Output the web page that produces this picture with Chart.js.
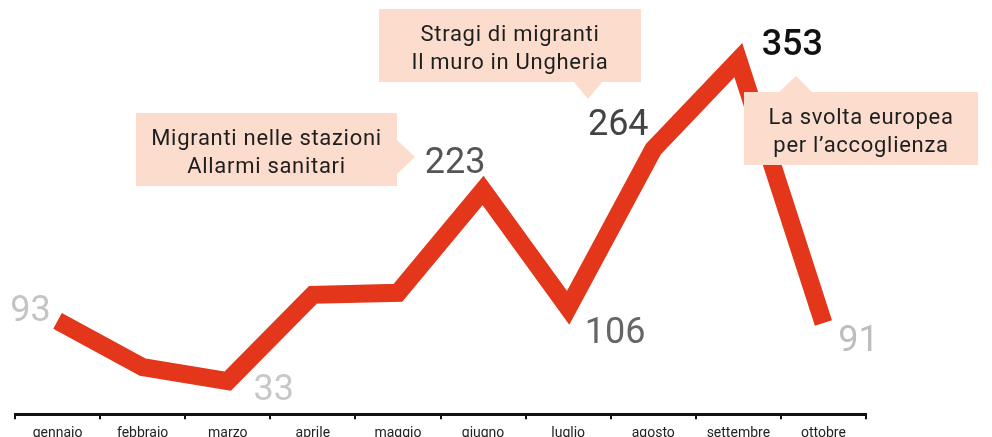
<!DOCTYPE html>
<html>
<head>
<meta charset="utf-8">
<script src="https://cdn.jsdelivr.net/npm/chart.js@4/dist/chart.umd.min.js"></script>
<style>
  html, body { margin: 0; background: #fff; overflow: hidden; }
  .wrap { position: relative; width: 992px; height: 448px; }
</style>
</head>
<body>
<div class="wrap"><canvas id="chart"></canvas></div>
<script>
const months = ["gennaio", "febbraio", "marzo", "aprile", "maggio",
  "giugno", "luglio", "agosto", "settembre", "ottobre"];
const arrivals = [93, 47, 33, 119, 121, 223, 106, 264, 353, 91];

// numbers printed next to the line (index -> look)
const valueLabels = {
  0: { dx: -27, dy: 0, color: "#c4c4c4" },
  2: { dx: 46, dy: 19, color: "#c8c8c8" },
  5: { dx: -28, dy: -18, color: "#555555" },
  6: { dx: 47, dy: 35, color: "#666666" },
  7: { dx: -35, dy: -14, color: "#444444" },
  8: { dx: 54, dy: -5, color: "#111111", weight: 500 },
  9: { dx: 35, dy: 28, color: "#bdbdbd" },
};

const calloutTexts = [
  ["Migranti nelle stazioni", "Allarmi sanitari"],
  ["Stragi di migranti", "Il muro in Ungheria"],
  ["La svolta europea", "per l\u2019accoglienza"],
];

// box geometry for each callout
const calloutBoxes = [
  { x: 136, y: 113, w: 261, h: 73, tip: "right", tx: 415, ty: 157, base: [140, 174] },
  { x: 379, y: 9, w: 262, h: 73, tip: "down", tx: 588, ty: 99, base: [574, 602] },
  { x: 744, y: 92, w: 234, h: 73, tip: "up", tx: 796, ty: 76, base: [779, 812] },
];

const annotate = {
  id: "annotate",
  afterDatasetsDraw(chart) {
    const ctx = chart.ctx;
    const meta = chart.getDatasetMeta(0);
    ctx.save();

    // value numbers
    ctx.textAlign = "center";
    ctx.textBaseline = "alphabetic";
    Object.keys(valueLabels).forEach(k => {
      const i = Number(k);
      const s = valueLabels[k];
      const p = meta.data[i];
      ctx.font = `${s.weight || 400} 36px Roboto`;
      ctx.fillStyle = s.color;
      ctx.fillText(String(arrivals[i]), p.x + s.dx, p.y + s.dy);
    });

    // callout boxes
    calloutBoxes.forEach((b, n) => {
      ctx.fillStyle = "#fbdccd";
      ctx.fillRect(b.x, b.y, b.w, b.h);
      ctx.beginPath();
      if (b.tip === "right") {
        ctx.moveTo(b.x + b.w, b.base[0]);
        ctx.lineTo(b.tx, b.ty);
        ctx.lineTo(b.x + b.w, b.base[1]);
      } else if (b.tip === "down") {
        ctx.moveTo(b.base[0], b.y + b.h);
        ctx.lineTo(b.tx, b.ty);
        ctx.lineTo(b.base[1], b.y + b.h);
      } else {
        ctx.moveTo(b.base[0], b.y);
        ctx.lineTo(b.tx, b.ty);
        ctx.lineTo(b.base[1], b.y);
      }
      ctx.closePath();
      ctx.fill();

      ctx.fillStyle = "#1e1e1e";
      ctx.font = "400 22px Roboto";
      ctx.letterSpacing = "0.7px";
      const cx = b.x + b.w / 2;
      ctx.fillText(calloutTexts[n][0], cx, b.y + 32);
      ctx.fillText(calloutTexts[n][1], cx, b.y + 60);
      ctx.letterSpacing = "0px";
    });

    ctx.restore();
  }
};

new Chart(document.getElementById("chart").getContext("2d"), {
  type: "line",
  data: {
    labels: months,
    datasets: [{
      data: arrivals,
      borderColor: "#e4361a",
      borderWidth: 18,
      borderJoinStyle: "miter",
      borderCapStyle: "butt",
      pointRadius: 0,
      tension: 0,
      fill: false,
    }],
  },
  options: {
    responsive: true,
    maintainAspectRatio: false,
    animation: false,
    events: [],
    layout: { padding: { left: 15, right: 126, top: 13, bottom: 0 } },
    plugins: { legend: { display: false }, tooltip: { enabled: false } },
    scales: {
      x: {
        offset: true,
        grid: {
          offset: true,
          drawOnChartArea: false,
          color: "#111",
          lineWidth: 2,
          tickLength: 5,
        },
        border: { color: "#111", width: 3 },
        ticks: {
          color: "#222",
          font: { family: "Roboto", size: 14 },
          padding: 6,
          maxRotation: 0,
          autoSkip: false,
        },
      },
      y: {
        display: false,
        min: 0,
        max: 400,
      },
    },
  },
  plugins: [annotate],
});
</script>
</body>
</html>
